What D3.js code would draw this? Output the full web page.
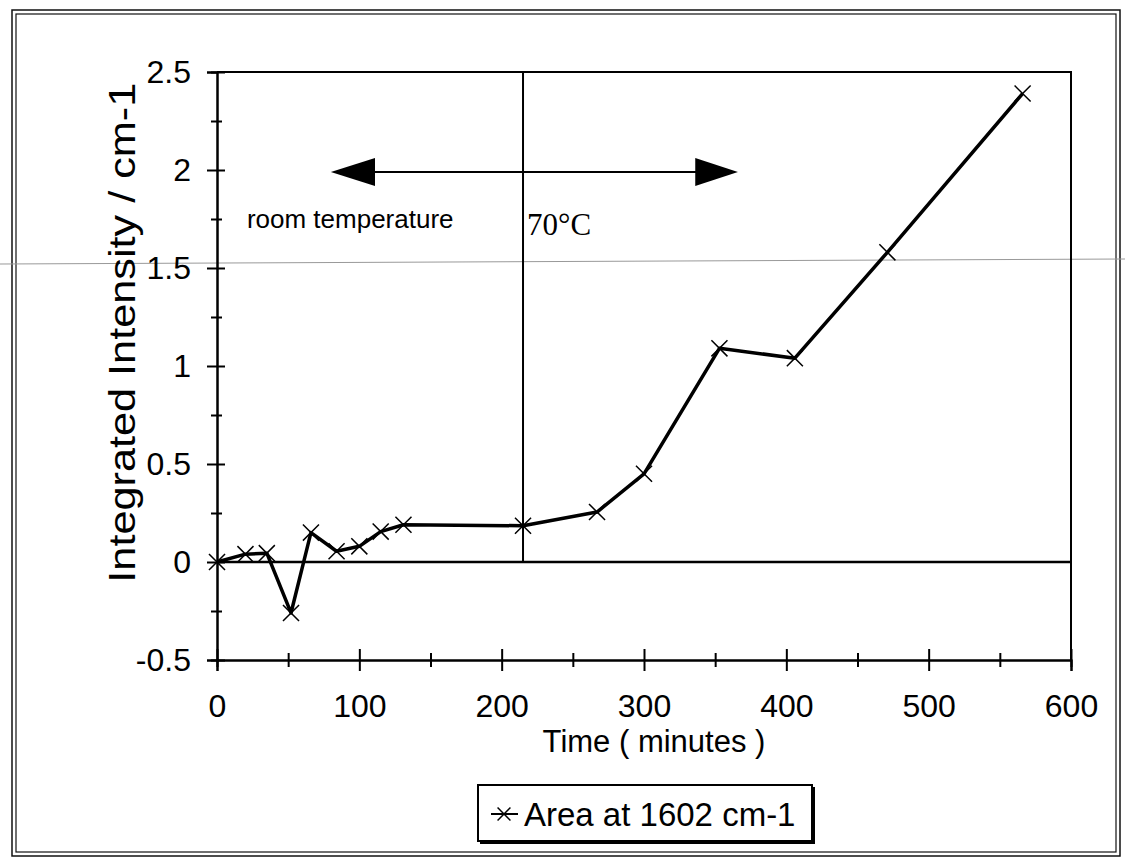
<!DOCTYPE html>
<html>
<head>
<meta charset="utf-8">
<script src="https://cdn.jsdelivr.net/npm/d3@7"></script>
<style>
  body { margin: 0; background: #fff; }
  text { font-family: "Liberation Sans", Arial, sans-serif; fill: #000; }
</style>
</head>
<body>
<div id="chart"></div>
<script>
// data
var times = [0, 20, 35, 52, 66, 84, 100, 115, 131, 215, 267, 300, 353, 406, 471, 566];
var intensity = [0, 0.04, 0.045, -0.26, 0.15, 0.055, 0.08, 0.155, 0.19, 0.185, 0.255, 0.45, 1.09, 1.04, 1.58, 2.39];
var xTicks = [0, 100, 200, 300, 400, 500, 600];
var xMinor = [50, 150, 250, 350, 450, 550];
var yTicks = [-0.5, 0, 0.5, 1, 1.5, 2, 2.5];
var yMinor = [-0.25, 0.25, 0.75, 1.25, 1.75, 2.25];
var heatTime = 215;
var seriesName = "Area at 1602 cm-1";

var svgWidth = 1125;
var svgHeight = 861;
var margin = { top: 72, right: 54, bottom: 201, left: 217 };
var width = svgWidth - margin.left - margin.right;
var height = svgHeight - margin.top - margin.bottom;

var svg = d3.select("#chart")
  .append("svg")
  .attr("width", svgWidth)
  .attr("height", svgHeight);

// outer double frame of the scanned page
svg.append("rect")
  .attr("x", 12).attr("y", 10).attr("width", 1108).attr("height", 846)
  .attr("fill", "none").attr("stroke", "#111").attr("stroke-width", 1.5);
svg.append("rect")
  .attr("x", 16).attr("y", 14).attr("width", 1100).attr("height", 838)
  .attr("fill", "none").attr("stroke", "#111").attr("stroke-width", 1.2);

// faint scan line across the page
svg.append("line")
  .attr("x1", 0).attr("y1", 264).attr("x2", svgWidth).attr("y2", 259)
  .attr("stroke", "#999").attr("stroke-width", 1);

var chartGroup = svg.append("g")
  .attr("transform", `translate(${margin.left}, ${margin.top})`);

var xScale = d3.scaleLinear().domain([0, 600]).range([0, width]);
var yScale = d3.scaleLinear().domain([-0.5, 2.5]).range([height, 0]);

// plot border (top and right)
chartGroup.append("path")
  .attr("d", `M0,0H${width}V${height}`)
  .attr("fill", "none").attr("stroke", "#000").attr("stroke-width", 2);

// zero line
chartGroup.append("line")
  .attr("x1", 0).attr("x2", width)
  .attr("y1", yScale(0)).attr("y2", yScale(0))
  .attr("stroke", "#000").attr("stroke-width", 2.5);

// x axis, ticks cross the axis line
var xAxis = chartGroup.append("g")
  .attr("transform", `translate(0, ${height})`)
  .call(d3.axisBottom(xScale).tickValues(xTicks).tickSize(11).tickPadding(23));
xAxis.selectAll(".tick line").attr("y1", -11);
var xAxisMinor = chartGroup.append("g")
  .attr("transform", `translate(0, ${height})`)
  .call(d3.axisBottom(xScale).tickValues(xMinor).tickSize(7).tickFormat(""));
xAxisMinor.selectAll(".tick line").attr("y1", -7);

var yAxis = chartGroup.append("g")
  .call(d3.axisLeft(yScale).tickValues(yTicks).tickSize(10).tickPadding(16)
    .tickFormat(d => d));
yAxis.selectAll(".tick line").attr("x1", 8);
var yAxisMinor = chartGroup.append("g")
  .call(d3.axisLeft(yScale).tickValues(yMinor).tickSize(6).tickFormat(""));
yAxisMinor.selectAll(".tick line").attr("x1", 5);

chartGroup.selectAll(".domain").attr("stroke", "#000").attr("stroke-width", 2);
chartGroup.selectAll(".tick line").attr("stroke", "#000").attr("stroke-width", 2);
chartGroup.selectAll(".tick text")
  .style("font-size", "32px")
  .style("font-family", "'Liberation Sans', Arial, sans-serif");

// heating starts here
chartGroup.append("line")
  .attr("x1", xScale(heatTime)).attr("x2", xScale(heatTime))
  .attr("y1", 0).attr("y2", yScale(0))
  .attr("stroke", "#000").attr("stroke-width", 2);

// double headed arrow
var arrowY = yScale(1.99);
chartGroup.append("line")
  .attr("x1", xScale(110)).attr("x2", xScale(337))
  .attr("y1", arrowY).attr("y2", arrowY)
  .attr("stroke", "#000").attr("stroke-width", 2);
chartGroup.append("path")
  .attr("d", `M${xScale(80)},${arrowY}L${xScale(111)},${arrowY - 14}L${xScale(111)},${arrowY + 14}Z`)
  .attr("fill", "#000");
chartGroup.append("path")
  .attr("d", `M${xScale(366)},${arrowY}L${xScale(336)},${arrowY - 14}L${xScale(336)},${arrowY + 14}Z`)
  .attr("fill", "#000");

chartGroup.append("text")
  .attr("x", xScale(21)).attr("y", yScale(1.75) + 9)
  .style("font-size", "26px")
  .text("room temperature");

chartGroup.append("text")
  .attr("x", xScale(heatTime) + 4).attr("y", yScale(1.75) + 16)
  .style("font-family", "'Liberation Serif', 'Times New Roman', serif")
  .style("font-size", "31px")
  .text("70°C");

// data line and x markers
var line = d3.line()
  .x((d, i) => xScale(times[i]))
  .y(d => yScale(d));

chartGroup.append("path")
  .datum(intensity)
  .attr("d", line)
  .attr("fill", "none")
  .attr("stroke", "#000")
  .attr("stroke-width", 3.5)
  .attr("stroke-linejoin", "round");

var cross = d3.symbol().type(d3.symbolX).size(170);
chartGroup.selectAll(".marker")
  .data(intensity)
  .enter()
  .append("path")
  .attr("class", "marker")
  .attr("transform", (d, i) => `translate(${xScale(times[i])}, ${yScale(d)})`)
  .attr("d", cross)
  .attr("fill", "none")
  .attr("stroke", "#000")
  .attr("stroke-width", 1.5);

// axis titles
chartGroup.append("text")
  .attr("transform", `translate(${-82}, ${yScale(1.17)}) rotate(-90)`)
  .style("text-anchor", "middle")
  .style("font-size", "36px")
  .attr("textLength", 500)
  .attr("lengthAdjust", "spacingAndGlyphs")
  .text("Integrated Intensity / cm-1");

chartGroup.append("text")
  .attr("x", width / 2 + 10)
  .attr("y", height + 92)
  .style("text-anchor", "middle")
  .style("font-size", "31px")
  .text("Time ( minutes )");

// legend box
var legend = svg.append("g").attr("transform", "translate(478, 785)");
legend.append("rect")
  .attr("x", 2).attr("y", 2).attr("width", 335).attr("height", 57)
  .attr("fill", "#000");
legend.append("rect")
  .attr("width", 334).attr("height", 56)
  .attr("fill", "#fff").attr("stroke", "#000").attr("stroke-width", 2);
legend.append("line")
  .attr("x1", 13).attr("x2", 40).attr("y1", 29).attr("y2", 29)
  .attr("stroke", "#000").attr("stroke-width", 2);
legend.append("path")
  .attr("transform", "translate(26, 29)")
  .attr("d", d3.symbol().type(d3.symbolX).size(110))
  .attr("fill", "none").attr("stroke", "#000").attr("stroke-width", 1.5);
legend.append("text")
  .attr("x", 46).attr("y", 41)
  .style("font-size", "33px")
  .text(seriesName);
</script>
</body>
</html>
